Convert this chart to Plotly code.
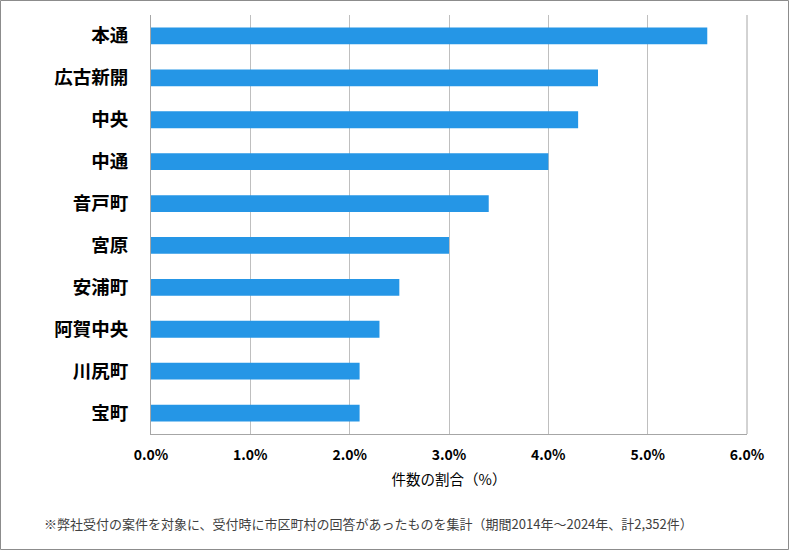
import plotly.graph_objects as go

FONT = "Noto Sans CJK JP"

areas = ["本通", "広古新開", "中央", "中通", "音戸町", "宮原", "安浦町", "阿賀中央", "川尻町", "宝町"]
share_pct = [5.6, 4.5, 4.3, 4.0, 3.4, 3.0, 2.5, 2.3, 2.1, 2.1]
x_ticks = [0, 1, 2, 3, 4, 5, 6]
x_tick_labels = ["0.0%", "1.0%", "2.0%", "3.0%", "4.0%", "5.0%", "6.0%"]

W, H = 790, 551
ML, MR, MT, MB = 151, 43, 15, 117
PW, PH = W - ML - MR, H - MT - MB

fig = go.Figure(
    go.Bar(
        x=share_pct,
        y=areas,
        orientation="h",
        marker=dict(color="#2596e6", line=dict(width=0)),
    )
)

fig.update_layout(
    width=W,
    height=H,
    margin=dict(l=ML, r=MR, t=MT, b=MB),
    paper_bgcolor="white",
    plot_bgcolor="white",
    bargap=0.6,
    showlegend=False,
    font=dict(family=FONT, color="#000000"),
)

fig.update_xaxes(
    range=[0, 6],
    tickvals=x_ticks,
    ticktext=x_tick_labels,
    tickfont=dict(size=14, family=FONT, weight="bold"),
    ticks="outside",
    ticklen=8,
    tickcolor="rgba(0,0,0,0)",
    showgrid=True,
    gridcolor="#bfbfbf",
    gridwidth=1,
    showline=True,
    linecolor="#a6a6a6",
    linewidth=1,
    zeroline=False,
    title=dict(text="件数の割合（%）", font=dict(size=14.5, family=FONT), standoff=12),
    fixedrange=True,
)

fig.update_yaxes(
    categoryorder="array",
    categoryarray=areas[::-1],
    tickfont=dict(size=18.5, family=FONT, weight="bold"),
    ticks="outside",
    ticklen=18,
    tickcolor="rgba(0,0,0,0)",
    showline=True,
    linecolor="#a6a6a6",
    linewidth=1,
    showgrid=False,
    fixedrange=True,
)

# right edge line at 6.0%
fig.add_shape(type="line", xref="paper", yref="paper", x0=1, x1=1, y0=0, y1=1,
              line=dict(color="#a6a6a6", width=1))

# outer frame
fig.add_shape(
    type="rect", xref="paper", yref="paper",
    x0=-(ML - 0.5) / PW, x1=1 + (MR - 1.5) / PW,
    y0=-(MB - 1.5) / PH, y1=1 + (MT - 0.5) / PH,
    line=dict(color="#8c8c8c", width=1),
)

fig.add_annotation(
    text="※弊社受付の案件を対象に、受付時に市区町村の回答があったものを集計（期間2014年～2024年、計2,352件）",
    xref="paper", yref="paper",
    x=-(ML - 42) / PW, y=-(523 - MT - PH) / PH,
    xanchor="left", yanchor="middle",
    showarrow=False,
    font=dict(size=13, family=FONT, color="#404040"),
)

fig.write_html(
    "out.html",
    config={"displayModeBar": False},
    post_script="document.body.style.margin='0';",
)
